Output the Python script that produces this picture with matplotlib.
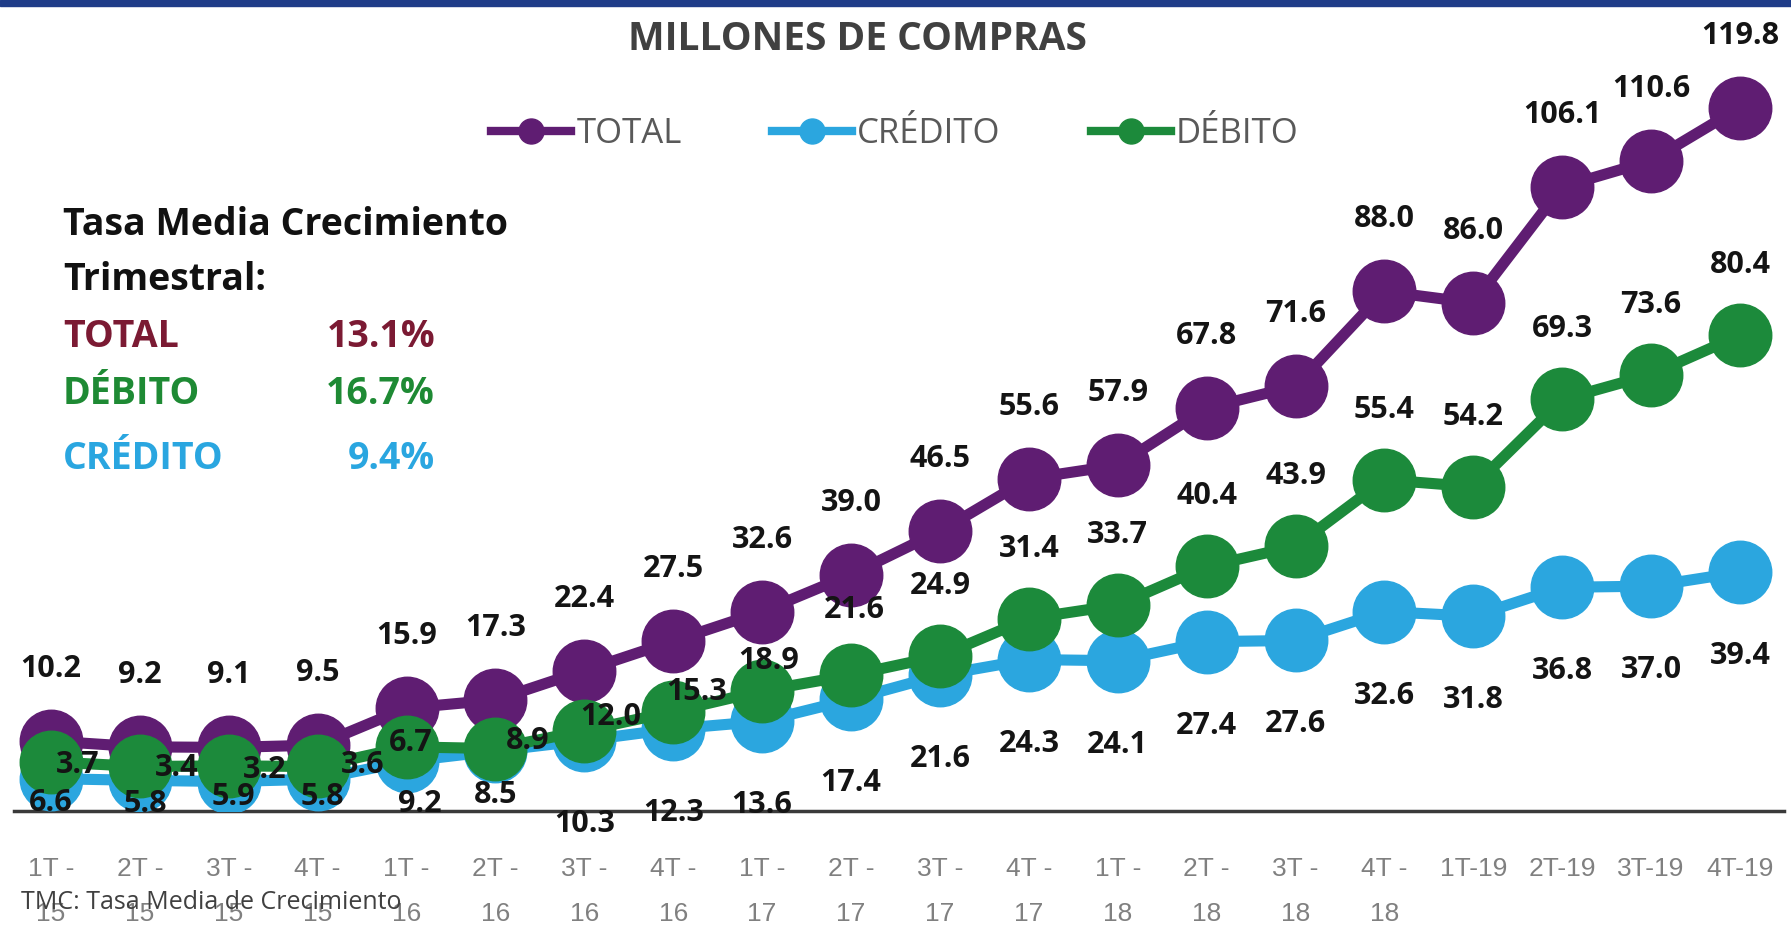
import matplotlib
matplotlib.use("Agg")
from matplotlib import pyplot as plt
from matplotlib.patches import Rectangle

# quarters
quarters = ["1T -\n15", "2T -\n15", "3T -\n15", "4T -\n15",
            "1T -\n16", "2T -\n16", "3T -\n16", "4T -\n16",
            "1T -\n17", "2T -\n17", "3T -\n17", "4T -\n17",
            "1T -\n18", "2T -\n18", "3T -\n18", "4T -\n18",
            "1T-19", "2T-19", "3T-19", "4T-19"]

total = [10.2, 9.2, 9.1, 9.5, 15.9, 17.3, 22.4, 27.5, 32.6, 39.0,
         46.5, 55.6, 57.9, 67.8, 71.6, 88.0, 86.0, 106.1, 110.6, 119.8]
credito = [3.7, 3.4, 3.2, 3.6, 6.7, 8.5, 10.3, 12.3, 13.6, 17.4,
           21.6, 24.3, 24.1, 27.4, 27.6, 32.6, 31.8, 36.8, 37.0, 39.4]
debito = [6.6, 5.8, 5.9, 5.8, 9.2, 8.9, 12.0, 15.3, 18.9, 21.6,
          24.9, 31.4, 33.7, 40.4, 43.9, 55.4, 54.2, 69.3, 73.6, 80.4]

tmc_names = ["TOTAL", "DÉBITO", "CRÉDITO"]
tmc_values = ["13.1%", "16.7%", "9.4%"]

PURPLE = "#5f1d72"
BLUE = "#2ba6df"
GREEN = "#1c8a3b"

# label offsets in pixels (dx, dy), dy positive = up
n = len(total)
off_total = [(0, 72)] * n
off_credito = [(27, 14), (37, 12), (36, 12), (45, 14), (4, 18), (0, -44)] + [(0, -84)] * (n - 6)
off_debito = [(0, -41), (5, -38), (5, -31), (5, -31), (13, -57), (32, 8),
              (26, 14), (23, 20), (6, 30), (3, 65)] + [(0, 70)] * (n - 10)

fig = plt.figure(figsize=(17.91, 9.30), dpi=100)
fig.patches.append(Rectangle((0, 1 - 6 / 930), 1, 6 / 930, transform=fig.transFigure,
                             color="#1f3c88", zorder=0))

ax = fig.add_axes([14 / 1791, 119 / 930, 1770 / 1791, 811 / 930])
ax.patch.set_alpha(0)
x = list(range(n))

series = [("TOTAL", total, PURPLE, off_total),
          ("CRÉDITO", credito, BLUE, off_credito),
          ("DÉBITO", debito, GREEN, off_debito)]

for i, (name, vals, col, offs) in enumerate(series):
    ax.plot(x, vals, color=col, linewidth=8, marker="o", markersize=45,
            label=name, zorder=3 + i)

for i, (name, vals, col, offs) in enumerate(series):
    for xi, v, (dx, dy) in zip(x, vals, offs):
        ax.annotate(f"{v:.1f}", (xi, v), xytext=(dx * 0.72, dy * 0.72),
                    textcoords="offset points", ha="center", va="center",
                    fontsize=22, fontweight="bold", color="#141414",
                    family="Open Sans", zorder=10)

ax.set_xlim(-0.416, 19.495)
ax.set_ylim(-1.9, 138.4)
for s in ["top", "left", "right"]:
    ax.spines[s].set_visible(False)
ax.spines["bottom"].set_color("#3a3a3a")
ax.spines["bottom"].set_linewidth(2.5)
ax.set_yticks([])
ax.set_xticks(x)
ax.set_xticklabels(quarters, fontsize=19, color="#808080", linespacing=2.1,
                   family=["Liberation Sans Narrow", "Liberation Sans", "DejaVu Sans"])
ax.tick_params(axis="x", length=0, pad=33)

leg = ax.legend(loc="center", bbox_to_anchor=(895 / 1791, 1 - 134 / 930),
                bbox_transform=fig.transFigure, ncol=3, frameon=False,
                markerscale=0.4, handlelength=2.3, handletextpad=0.15,
                columnspacing=2.6, prop={"family": "Open Sans", "size": 25})
for t in leg.get_texts():
    t.set_color("#595959")
for h in leg.legend_handles:
    h.set_linewidth(6)

fig.text(857 / 1791, 1 - 40 / 930, "MILLONES DE COMPRAS", ha="center", va="center",
         fontsize=28, fontweight="bold", color="#404040", family="Open Sans")

fig.text(63 / 1791, 1 - 225 / 930, "Tasa Media Crecimiento", ha="left", va="center",
         fontsize=27, fontweight="bold", color="#111111", family="Open Sans")
fig.text(63 / 1791, 1 - 280 / 930, "Trimestral:", ha="left", va="center",
         fontsize=27, fontweight="bold", color="#111111", family="Open Sans")
tmc_colors = ["#7b1a33", "#1e8a34", "#2aa6e0"]
tmc_y = [337, 394, 459]
for name, val, col, yy in zip(tmc_names, tmc_values, tmc_colors, tmc_y):
    fig.text(63 / 1791, 1 - yy / 930, name, ha="left", va="center",
             fontsize=27, fontweight="bold", color=col, family="Open Sans")
    fig.text(435 / 1791, 1 - yy / 930, val, ha="right", va="center",
             fontsize=27, fontweight="bold", color=col, family="Open Sans")

fig.text(21 / 1791, 1 - 902 / 930, "TMC: Tasa Media de Crecimiento", ha="left",
         va="center", fontsize=18, color="#404040", family="Open Sans")

fig.savefig("out.png", dpi=100)
